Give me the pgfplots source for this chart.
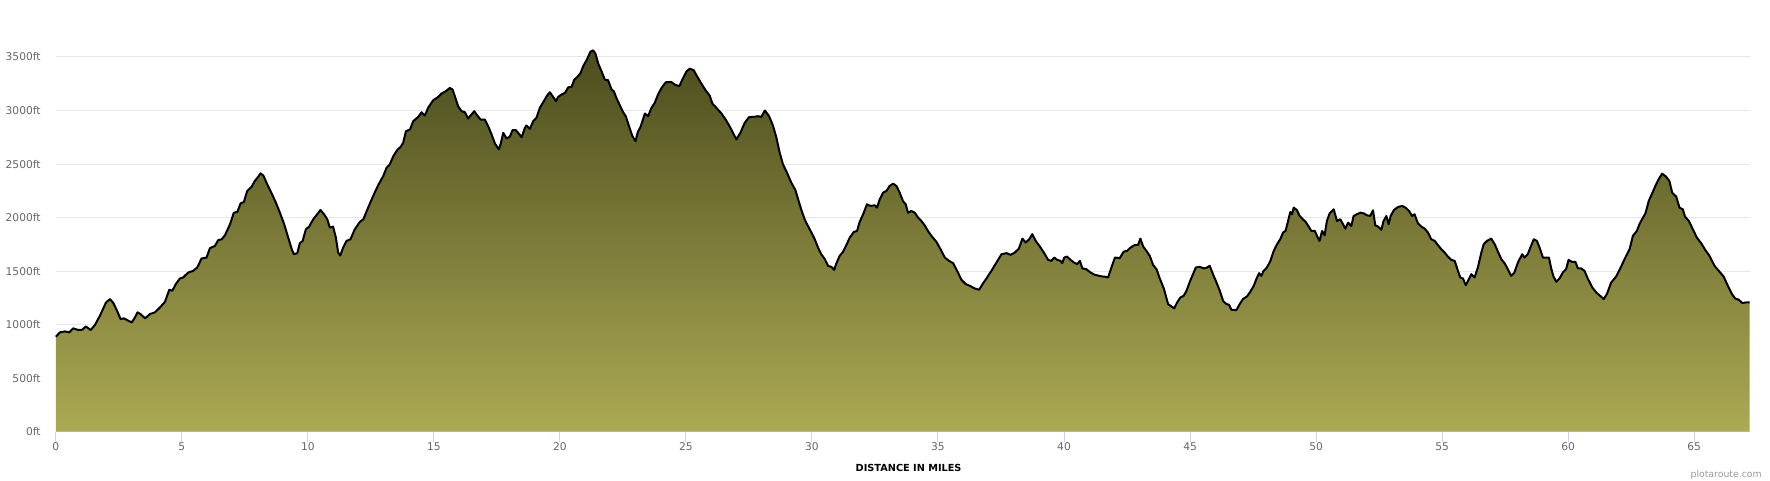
\documentclass[border=0pt]{standalone}
\usepackage{fontspec}
\setmainfont{DejaVu Sans}
\usepackage{pgfplots}
\usepackage{pgfplotstable}
\pgfplotsset{compat=1.18}
\definecolor{gridc}{HTML}{E6E6E6}
\definecolor{axisc}{HTML}{CCD6EB}
\definecolor{labc}{HTML}{666666}
\definecolor{credc}{HTML}{999999}
\definecolor{topc}{RGB}{76,76,30}
\definecolor{botc}{RGB}{172,170,84}
\pgfplotstableread{
mi ft
0 888
0.16 928
0.36 937
0.53 928
0.69 966
0.89 950
1.05 953
1.19 984
1.38 950
1.55 997
1.75 1084
1.99 1208
2.15 1239
2.28 1202
2.41 1139
2.57 1052
2.70 1059
2.87 1037
3.01 1021
3.14 1068
3.24 1115
3.36 1099
3.54 1059
3.73 1099
3.93 1115
4.13 1161
4.33 1214
4.50 1326
4.62 1317
4.76 1379
4.92 1431
5.05 1441
5.25 1487
5.45 1503
5.61 1534
5.78 1618
5.98 1627
6.11 1714
6.31 1736
6.44 1789
6.58 1798
6.71 1835
6.91 1938
7.06 2046
7.20 2053
7.33 2133
7.46 2146
7.59 2248
7.76 2286
7.89 2341
8.03 2382
8.12 2413
8.23 2394
8.39 2310
8.56 2227
8.73 2140
8.89 2046
9.05 1944
9.22 1813
9.35 1711
9.44 1658
9.58 1668
9.68 1761
9.79 1782
9.92 1891
10.05 1916
10.21 1984
10.34 2022
10.50 2071
10.64 2031
10.77 1984
10.87 1907
11.00 1916
11.11 1813
11.20 1674
11.28 1645
11.40 1720
11.53 1782
11.69 1798
11.86 1891
12.06 1959
12.20 1984
12.39 2093
12.59 2202
12.79 2304
12.99 2388
13.12 2466
13.25 2497
13.39 2574
13.54 2630
13.68 2661
13.78 2699
13.89 2807
14.05 2823
14.18 2901
14.38 2941
14.51 2984
14.64 2953
14.77 3025
14.97 3096
15.17 3127
15.30 3158
15.47 3180
15.63 3211
15.74 3196
15.83 3134
15.96 3040
16.10 2994
16.23 2984
16.36 2925
16.49 2963
16.60 2994
16.72 2953
16.85 2916
17.02 2916
17.15 2854
17.29 2776
17.42 2692
17.58 2637
17.66 2699
17.75 2792
17.88 2739
18.01 2755
18.12 2817
18.25 2817
18.34 2792
18.48 2751
18.61 2838
18.67 2860
18.81 2829
18.94 2901
19.07 2932
19.20 3025
19.36 3087
19.49 3140
19.60 3171
19.71 3134
19.84 3087
19.93 3127
20.06 3149
20.20 3165
20.33 3217
20.46 3220
20.57 3289
20.68 3311
20.82 3351
20.92 3413
21.08 3481
21.21 3550
21.32 3562
21.41 3531
21.52 3438
21.65 3366
21.78 3289
21.91 3283
22.05 3196
22.14 3180
22.24 3118
22.38 3047
22.51 2984
22.61 2947
22.75 2848
22.88 2758
23.00 2714
23.09 2800
23.20 2848
23.37 2972
23.50 2947
23.63 3025
23.76 3071
23.89 3149
24.03 3211
24.20 3264
24.42 3267
24.56 3242
24.73 3227
24.86 3289
25.02 3366
25.15 3391
25.31 3376
25.44 3320
25.61 3252
25.78 3189
25.94 3140
26.05 3065
26.21 3025
26.41 2972
26.60 2907
26.80 2823
27.00 2730
27.16 2792
27.33 2885
27.50 2938
27.69 2941
27.86 2947
27.99 2941
28.13 3000
28.30 2947
28.46 2854
28.59 2745
28.72 2605
28.85 2497
29.01 2419
29.18 2326
29.34 2258
29.45 2171
29.58 2071
29.71 1984
29.84 1922
29.98 1860
30.11 1798
30.24 1720
30.37 1658
30.51 1612
30.64 1549
30.77 1540
30.88 1512
30.97 1574
31.10 1643
31.23 1680
31.36 1742
31.50 1813
31.66 1866
31.79 1876
31.89 1959
32.03 2031
32.18 2124
32.32 2109
32.49 2115
32.58 2093
32.69 2171
32.82 2233
32.95 2248
33.08 2295
33.22 2317
33.35 2295
33.48 2233
33.61 2155
33.72 2124
33.81 2046
33.94 2062
34.08 2046
34.21 2000
34.34 1969
34.47 1928
34.60 1876
34.74 1829
34.94 1773
35.10 1705
35.27 1627
35.44 1596
35.60 1574
35.76 1503
35.93 1419
36.10 1379
36.26 1363
36.46 1338
36.63 1326
36.77 1379
36.92 1431
37.12 1503
37.32 1581
37.52 1658
37.72 1668
37.88 1652
38.05 1674
38.21 1711
38.35 1804
38.48 1767
38.62 1798
38.74 1845
38.88 1782
39.04 1730
39.20 1674
39.37 1605
39.50 1596
39.61 1627
39.73 1605
39.86 1596
39.93 1574
40.01 1627
40.12 1636
40.26 1605
40.39 1581
40.52 1565
40.63 1596
40.73 1525
40.89 1518
41.05 1487
41.22 1466
41.39 1456
41.53 1450
41.66 1447
41.75 1441
41.88 1534
42.02 1627
42.21 1621
42.37 1683
42.50 1689
42.64 1720
42.81 1745
42.94 1745
43.03 1804
43.14 1730
43.27 1689
43.40 1643
43.54 1556
43.67 1518
43.80 1431
43.96 1338
44.13 1192
44.26 1171
44.37 1152
44.49 1208
44.62 1254
44.75 1270
44.86 1317
44.99 1400
45.12 1472
45.23 1534
45.39 1540
45.55 1525
45.68 1534
45.78 1550
45.91 1472
46.04 1400
46.18 1317
46.31 1223
46.44 1192
46.55 1186
46.64 1139
46.84 1136
46.97 1192
47.10 1239
47.26 1264
47.39 1307
47.53 1363
47.63 1425
47.74 1481
47.83 1456
47.92 1503
48.05 1534
48.19 1596
48.32 1689
48.45 1751
48.58 1798
48.69 1860
48.79 1876
48.89 1969
48.98 2053
49.05 2031
49.11 2093
49.24 2071
49.35 2015
49.48 1984
49.59 1959
49.71 1916
49.81 1876
49.95 1876
50.04 1829
50.14 1782
50.24 1876
50.34 1835
50.43 1969
50.54 2040
50.70 2078
50.83 1969
50.96 1984
51.07 1938
51.16 1897
51.27 1953
51.40 1922
51.49 2015
51.62 2031
51.76 2046
51.89 2040
52.02 2022
52.15 2015
52.26 2068
52.35 1928
52.46 1916
52.59 1885
52.68 1969
52.79 2015
52.88 1938
52.96 2015
53.09 2071
53.25 2099
53.42 2109
53.55 2093
53.69 2062
53.81 2015
53.91 2031
54.04 1947
54.18 1916
54.31 1897
54.44 1860
54.57 1798
54.71 1782
54.84 1742
54.97 1705
55.10 1674
55.23 1636
55.37 1605
55.50 1596
55.63 1503
55.72 1441
55.83 1431
55.94 1369
56.03 1410
56.16 1472
56.29 1441
56.42 1534
56.56 1674
56.65 1751
56.78 1782
56.95 1804
57.09 1751
57.22 1680
57.35 1612
57.48 1574
57.61 1518
57.74 1456
57.87 1487
58.01 1581
58.18 1658
58.27 1627
58.40 1658
58.54 1742
58.64 1798
58.76 1782
58.87 1720
59.00 1627
59.13 1627
59.24 1627
59.33 1525
59.42 1450
59.53 1400
59.66 1431
59.79 1487
59.92 1518
60.02 1605
60.15 1587
60.29 1587
60.39 1525
60.52 1525
60.65 1503
60.78 1431
60.96 1348
61.14 1295
61.27 1270
61.41 1239
61.54 1286
61.71 1394
61.91 1450
62.07 1525
62.24 1612
62.44 1705
62.57 1829
62.73 1876
62.83 1938
62.97 2000
63.07 2040
63.20 2155
63.36 2239
63.49 2310
63.63 2373
63.73 2410
63.89 2382
64.02 2341
64.13 2233
64.29 2196
64.42 2093
64.55 2078
64.64 2009
64.79 1969
64.95 1891
65.11 1813
65.28 1761
65.44 1699
65.61 1643
65.81 1550
66.01 1494
66.17 1450
66.34 1363
66.50 1286
66.63 1245
66.77 1233
66.91 1202
67.07 1208
67.20 1208
}\elev
\begin{document}
\begin{tikzpicture}
\useasboundingbox (0,0) rectangle (1327.5pt,360pt);
\begin{axis}[
  at={(41.9pt,36.2pt)}, anchor=south west,
  scale only axis, width=1270.3pt, height=293.1pt,
  xmin=0, xmax=67.2, ymin=0, ymax=3650,
  axis x line*=bottom, axis y line*=left,
  x axis line style={-, draw=axisc, line width=0.75pt},
  y axis line style={-, draw=none},
  xtick={0,5,...,65},
  ytick={0,500,...,3500},
  ymajorgrids, grid style={draw=gridc, line width=0.75pt},
  tick align=outside,
  major tick length=7.5pt,
  x tick style={draw=axisc, line width=0.75pt},
  y tick style={draw=none},
  /pgf/number format/assume math mode=true,
  /pgf/number format/1000 sep={},
  /pgf/number format/fixed, /pgf/number format/precision=0,
  ticklabel style={font=\fontsize{8}{10}\selectfont, text=labc},
  yticklabel={\pgfmathprintnumber{\tick}ft},
  yticklabel style={anchor=east, inner sep=0pt, xshift=-3.75pt},
  xticklabel style={anchor=center, inner sep=0pt, yshift=-4pt},
  xlabel={DISTANCE IN MILES},
  xlabel style={font=\fontsize{7.3}{9}\selectfont\bfseries, text=black,
    at={(axis description cs:0.5035,0)}, anchor=center, yshift=-27.2pt},
  clip=false,
]
\addplot[draw=none, top color=topc, bottom color=botc] table[x=mi,y=ft]{\elev} \closedcycle;
\addplot[black, line width=1.5pt, line join=round, mark=none] table[x=mi,y=ft]{\elev};
\end{axis}
\node[anchor=east, text=credc, font=\fontsize{7}{9}\selectfont, inner sep=0pt] at (1321.5pt,3.6pt) {plotaroute.com};
\end{tikzpicture}
\end{document}
